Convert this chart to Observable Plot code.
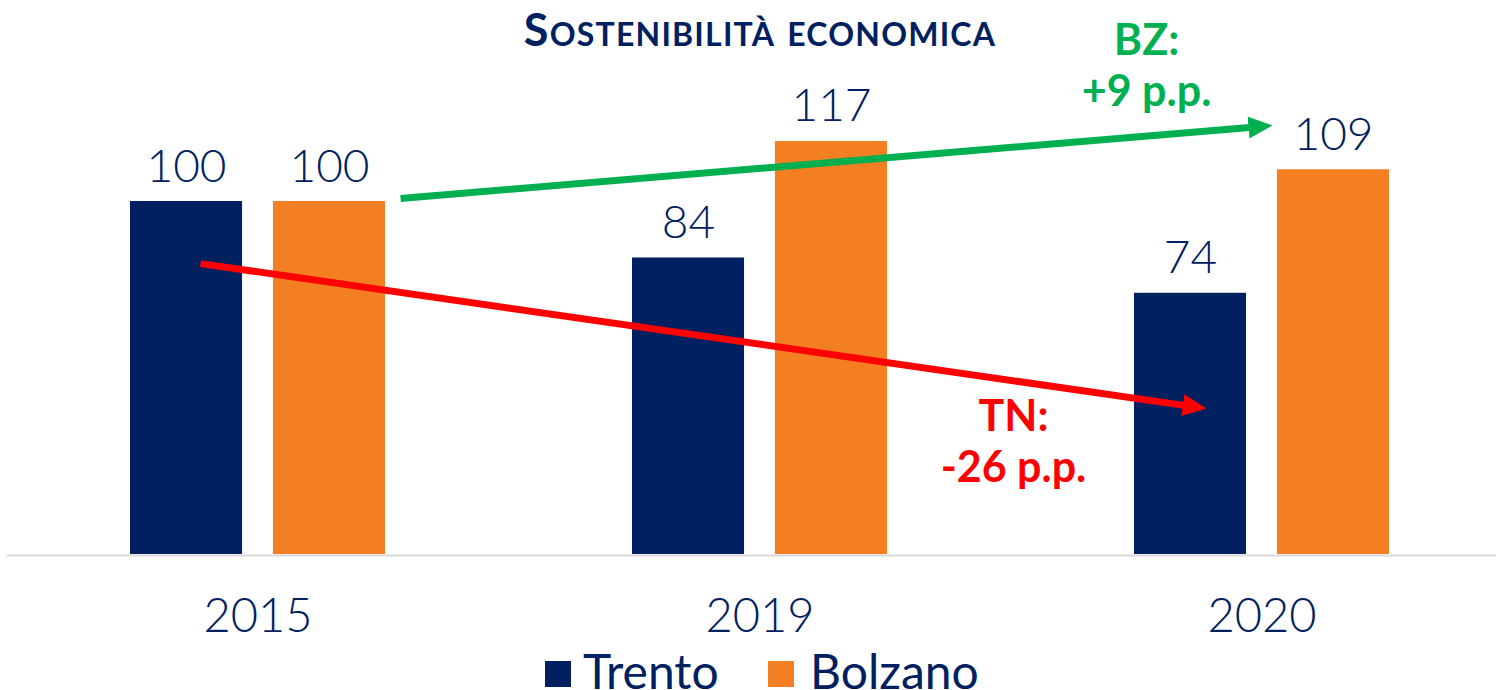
<!DOCTYPE html>
<html>
<head>
<meta charset="utf-8">
<script src="https://cdn.jsdelivr.net/npm/d3@7"></script>
<script src="https://cdn.jsdelivr.net/npm/@observablehq/plot@0.6"></script>
<style>
  html, body { margin: 0; padding: 0; background: #fff; }
  #wrap { position: relative; width: 1496px; height: 690px; overflow: hidden; background: #fff; font-family: Lato, sans-serif; }
  #title { position: absolute; left: 0; width: 1520px; top: 7px; text-align: center; font-weight: bold; font-size: 45px; letter-spacing: 1.2px; font-variant: small-caps; color: #002060; line-height: 1; }
  .sw { position: absolute; width: 26px; height: 26px; top: 661px; }
  .lt { position: absolute; top: 647px; font-size: 48px; line-height: 48px; color: #002060; }
</style>
</head>
<body>
<div id="wrap">
  <div id="chart"></div>
  <div id="title">Sostenibilità economica</div>
  <div id="legend"></div>
</div>
<script>
// ---- data ----
const years = ["2015", "2019", "2020"];
const seriesNames = ["Trento", "Bolzano"];
const trento = [100, 84, 74];
const bolzano = [100, 117, 109];
const seriesColors = ["#002060", "#F47F22"];

// annotation arrows (data units: x = year index, y = index value)
const arrowLabels = ["BZ", "TN"];
const arrowColors = ["#00B050", "#FF0000"];
const arrowX1 = [0.284, -0.1145];
const arrowY1 = [100.85, 82.4];
const arrowX2 = [1.993, 1.862];
const arrowY2 = [121.2, 41.9];
const noteTexts = ["BZ:\n+9 p.p.", "TN:\n-26 p.p."];
const noteX = [1.770, 1.505];
const noteY = [152.0, 45.5];

// ---- tables ----
const rows = years.flatMap((year, i) => [
  {i, year, series: seriesNames[0], value: trento[i]},
  {i, year, series: seriesNames[1], value: bolzano[i]}
]);
const offset = {Trento: -0.1424, Bolzano: 0.1424};
const half = 0.1116;

const arrows = arrowLabels.map((k, j) => ({k, color: arrowColors[j], x1: arrowX1[j], y1: arrowY1[j], x2: arrowX2[j], y2: arrowY2[j]}));
const notes = arrowLabels.map((k, j) => ({k, color: arrowColors[j], text: noteTexts[j], x: noteX[j], y: noteY[j]}));

function triHead(color) {
  const m = d3.create("svg:marker")
    .attr("viewBox", "0 -11 24 22")
    .attr("markerUnits", "userSpaceOnUse")
    .attr("markerWidth", 24)
    .attr("markerHeight", 22)
    .attr("refX", 10)
    .attr("refY", 0)
    .attr("orient", "auto");
  m.append("path").attr("d", "M0,-11L24,0L0,11Z").attr("fill", color).attr("stroke", "none");
  return m.node();
}

const plot = Plot.plot({
  width: 1496,
  height: 690,
  marginLeft: 6.5,
  marginRight: -16.5,
  marginTop: 24.5,
  marginBottom: 136,
  x: {type: "linear", domain: [-0.5, 2.5]},
  y: {domain: [0, 150], axis: null},
  color: {domain: seriesNames, range: seriesColors},
  style: {fontFamily: "Lato, sans-serif", background: "transparent"},
  marks: [
    Plot.rectY(rows, {
      x1: d => d.i + offset[d.series] - half,
      x2: d => d.i + offset[d.series] + half,
      y: "value",
      fill: "series"
    }),
    Plot.ruleY([0], {stroke: "#d9d9d9", strokeWidth: 2, dy: 1}),
    Plot.text(rows, {
      x: d => d.i + offset[d.series],
      y: "value",
      text: d => String(d.value),
      lineAnchor: "bottom",
      dy: -20,
      fontSize: 46,
      fontWeight: 300,
      fill: "#002060"
    }),
    Plot.axisX({
      ticks: [0, 1, 2],
      tickFormat: i => years[i],
      tickSize: 0,
      tickPadding: 44,
      fontSize: 47,
      fontWeight: 300,
      color: "#002060",
      label: null
    }),
    Plot.link(arrows, {
      x1: "x1", y1: "y1", x2: "x2", y2: "y2",
      stroke: d => d.color,
      strokeWidth: 7,
      markerEnd: triHead
    }),
    Plot.text(notes, {
      x: "x", y: "y", text: "text",
      fill: d => d.color,
      lineAnchor: "top",
      lineHeight: 1.2,
      fontSize: 43,
      fontWeight: "bold"
    })
  ]
});
document.getElementById("chart").appendChild(plot);

// legend
const legend = document.getElementById("legend");
const swLeft = [545, 768];
const txLeft = [583, 810];
seriesNames.forEach((name, j) => {
  const sw = document.createElement("div");
  sw.className = "sw";
  sw.style.left = swLeft[j] + "px";
  sw.style.background = seriesColors[j];
  legend.appendChild(sw);
  const t = document.createElement("div");
  t.className = "lt";
  t.style.left = txLeft[j] + "px";
  t.textContent = name;
  legend.appendChild(t);
});
</script>
</body>
</html>
